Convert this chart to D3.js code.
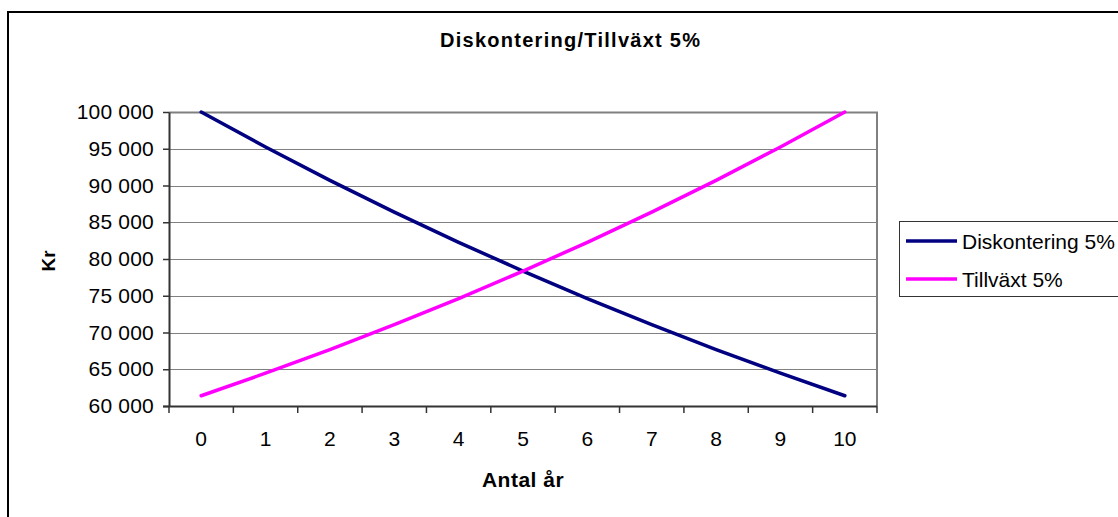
<!DOCTYPE html>
<html>
<head>
<meta charset="utf-8">
<script src="https://cdn.jsdelivr.net/npm/d3@7"></script>
<style>
  html, body { margin: 0; padding: 0; background: #fff; }
  svg { display: block; font-family: Arial, "Liberation Sans", sans-serif; }
</style>
</head>
<body>
<svg id="chart" width="1118" height="517"></svg>
<script>
const years = ["0","1","2","3","4","5","6","7","8","9","10"];
const diskontering = [100000, 95238, 90703, 86384, 82270, 78353, 74622, 71068, 67684, 64461, 61391];
const tillvaxt = [61391, 64461, 67684, 71068, 74622, 78353, 82270, 86384, 90703, 95238, 100000];
const yTicks = [60000, 65000, 70000, 75000, 80000, 85000, 90000, 95000, 100000];
const seriesNames = ["Diskontering 5%", "Tillväxt 5%"];
const seriesColors = ["#000080", "#FF00FF"];
const title = "Diskontering/Tillväxt 5%";
const xTitle = "Antal år";
const yTitle = "Kr";

const svg = d3.select("#chart");
const pL = 169, pR = 877, pT = 112, pB = 406;

// outer chart border
svg.append("rect").attr("x", 8).attr("y", 12).attr("width", 1130).attr("height", 530)
  .attr("fill", "#fff").attr("stroke", "#000").attr("stroke-width", 2);

const x = d3.scaleBand().domain(years).range([pL, pR]).padding(0);
const y = d3.scaleLinear().domain([60000, 100000]).range([pB, pT]);

const fmt = v => d3.format(",")(v).replace(/,/g, " ");

// gridlines
svg.append("g").selectAll("line").data(yTicks).join("line")
  .attr("x1", pL).attr("x2", pR)
  .attr("y1", d => Math.round(y(d)) + 0.5).attr("y2", d => Math.round(y(d)) + 0.5)
  .attr("stroke", "#808080").attr("stroke-width", 1);

// plot border top/right
svg.append("path")
  .attr("d", `M${pL},${pT + 0.5}H${pR}V${pB}`)
  .attr("fill", "none").attr("stroke", "#808080").attr("stroke-width", 2);

// y axis
const yAxis = svg.append("g").attr("transform", `translate(${pL},0)`)
  .call(d3.axisLeft(y).tickValues(yTicks).tickFormat(fmt).tickSizeOuter(0).tickSizeInner(6).tickPadding(9));
yAxis.select(".domain").attr("stroke", "#333").attr("stroke-width", 2);
yAxis.selectAll(".tick line").attr("stroke", "#333").attr("stroke-width", 1.5);
yAxis.selectAll("text").attr("font-size", 21).attr("fill", "#000")
  .attr("font-family", "Arial, 'Liberation Sans', sans-serif").attr("letter-spacing", 0.2);

// x axis (ticks between categories)
const xAxisG = svg.append("g").attr("transform", `translate(0,${pB})`);
xAxisG.append("line").attr("x1", pL - 6).attr("x2", pR).attr("y1", 0.5).attr("y2", 0.5)
  .attr("stroke", "#333").attr("stroke-width", 2);
const boundaries = years.map(d => x(d)).concat([x(years[years.length - 1]) + x.bandwidth()]);
xAxisG.selectAll("line.tk").data(boundaries).join("line").attr("class", "tk")
  .attr("x1", d => d).attr("x2", d => d).attr("y1", 0).attr("y2", 7)
  .attr("stroke", "#333").attr("stroke-width", 1.5);
xAxisG.selectAll("text").data(years).join("text")
  .attr("x", d => x(d) + x.bandwidth() / 2).attr("y", 40)
  .attr("text-anchor", "middle").attr("font-size", 21).attr("fill", "#000")
  .text(d => d);

// lines
const line = d3.line().x((d, i) => x(years[i]) + x.bandwidth() / 2).y(d => y(d));
[diskontering, tillvaxt].forEach((s, i) => {
  svg.append("path").datum(s).attr("d", line)
    .attr("fill", "none").attr("stroke", seriesColors[i]).attr("stroke-width", 3.5)
    .attr("stroke-linejoin", "round").attr("stroke-linecap", "round");
});

// title
svg.append("text").attr("x", 570).attr("y", 47).attr("text-anchor", "middle")
  .attr("font-size", 20).attr("font-weight", "bold").attr("textLength", 260)
  .attr("lengthAdjust", "spacing").text(title);

// axis titles
svg.append("text").attr("x", (pL + pR) / 2).attr("y", 487).attr("text-anchor", "middle")
  .attr("font-size", 21).attr("font-weight", "bold").attr("letter-spacing", 0.5).text(xTitle);
svg.append("text").attr("transform", "translate(55,261) rotate(-90)").attr("text-anchor", "middle")
  .attr("font-size", 19).attr("font-weight", "bold").text(yTitle);

// legend
const lg = svg.append("g");
lg.append("rect").attr("x", 899.5).attr("y", 221.5).attr("width", 240).attr("height", 75)
  .attr("fill", "#fff").attr("stroke", "#333").attr("stroke-width", 1);
seriesNames.forEach((n, i) => {
  const ly = 241 + i * 38;
  lg.append("line").attr("x1", 906).attr("x2", 957).attr("y1", ly).attr("y2", ly)
    .attr("stroke", seriesColors[i]).attr("stroke-width", 3.5);
  lg.append("text").attr("x", 962).attr("y", ly + 7.5).attr("font-size", 21)
    .text(n);
});
</script>
</body>
</html>
